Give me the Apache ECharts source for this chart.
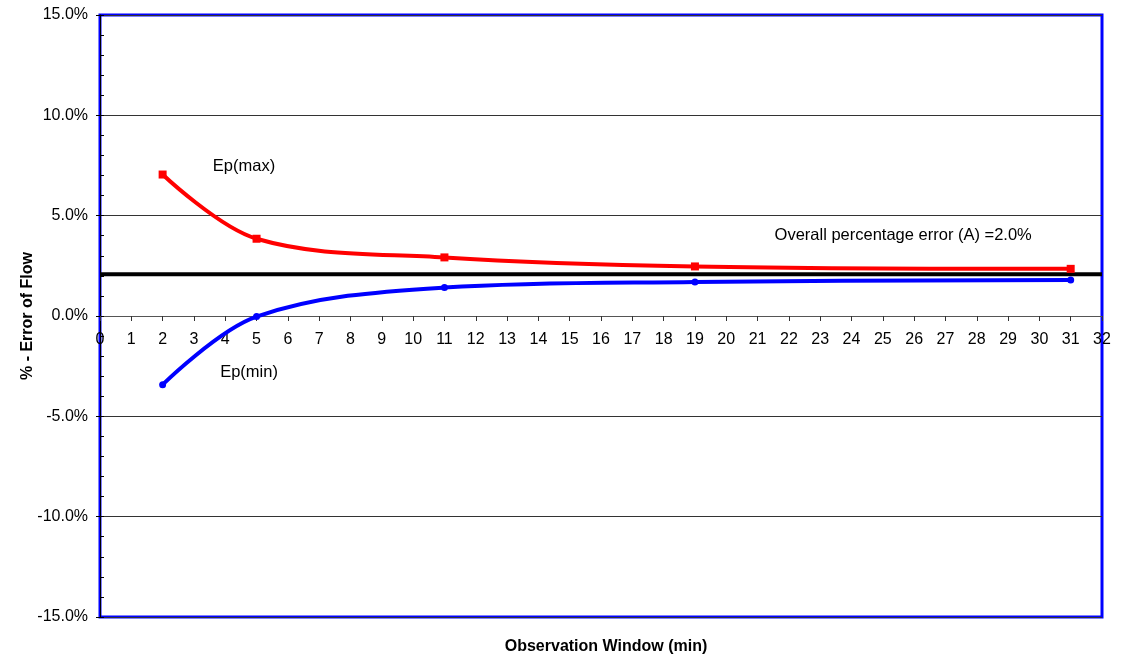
<!DOCTYPE html>
<html>
<head>
<meta charset="utf-8">
<script src="https://cdn.jsdelivr.net/npm/echarts@6/dist/echarts.min.js"></script>
<style>html,body{margin:0;padding:0;background:#fff}#c{width:1127px;height:658px}</style>
</head>
<body>
<div id="c"></div>
<script>
const windows = [2, 5, 11, 19, 31];
const epMax = [7.05, 3.85, 2.92, 2.47, 2.35];
const epMin = [-3.42, -0.03, 1.42, 1.7, 1.8];
const overallX = [0, 32];
const overallValue = [2.08, 2.08];
const yTicks = [-15, -10, -5, 0, 5, 10, 15];

const FONT = '"Liberation Sans", Arial, Helvetica, sans-serif';
const GRID = { left: 100, right: 25, top: 15, bottom: 41 };
const chart = echarts.init(document.getElementById('c'));
const pair = (xs, ys) => xs.map((x, i) => [x, ys[i]]);
// the x axis sits on the 0% line, halfway down the plot (range -15..15)
const plotH = 658 - GRID.top - GRID.bottom;
const zeroOffset = -plotH * (0 - yTicks[0]) / (yTicks[yTicks.length - 1] - yTicks[0]);

chart.setOption({
  animation: false,
  textStyle: { fontFamily: FONT },
  title: {
    text: 'Observation Window (min)', left: 601, top: 634, textAlign: 'center',
    textStyle: { fontWeight: 'bold', fontSize: 16, color: '#000', fontFamily: FONT }
  },
  grid: Object.assign({ show: true, borderColor: '#0000ff', borderWidth: 3, backgroundColor: 'transparent' }, GRID),
  xAxis: {
    type: 'value', min: 0, max: 32, interval: 1, position: 'bottom', offset: zeroOffset,
    axisLine: { show: true, onZero: false, lineStyle: { color: '#555', width: 1 } },
    axisTick: { show: true, length: 5, lineStyle: { color: '#333' } },
    axisLabel: { color: '#000', fontSize: 16, margin: 16, fontFamily: FONT },
    splitLine: { show: false }
  },
  yAxis: [{
    type: 'value', min: yTicks[0], max: yTicks[yTicks.length - 1], interval: 5,
    axisLine: { show: true, onZero: false, lineStyle: { color: '#000' } },
    axisTick: { show: true, length: 4, lineStyle: { color: '#000' } },
    axisLabel: { color: '#000', fontSize: 16, margin: 12, fontFamily: FONT, formatter: v => v.toFixed(1) + '%' },
    splitLine: { show: true, lineStyle: { color: '#333', width: 1 } },
    name: '% - Error of Flow', nameLocation: 'middle', nameGap: 64, nameRotate: 90, nameMoveOverlap: false,
    nameTextStyle: { fontWeight: 'bold', fontSize: 16, color: '#000', fontFamily: FONT }
  }, {
    type: 'value', min: yTicks[0], max: yTicks[yTicks.length - 1], interval: 1, position: 'left',
    axisLine: { show: false, onZero: false },
    axisTick: { show: true, inside: true, length: 4, lineStyle: { color: '#000' } },
    axisLabel: { show: false }, splitLine: { show: false }
  }],
  series: [{
    name: 'Overall', type: 'line', data: pair(overallX, overallValue), symbol: 'none',
    lineStyle: { color: '#000', width: 4 }, z: 1,
    markPoint: {
      symbol: 'circle', symbolSize: 0,
      label: { show: true, color: '#000', fontSize: 16.5, fontFamily: FONT, formatter: p => p.name },
      data: [
        { name: 'Overall percentage error (A) =2.0%', coord: [25.65, 4.0] },
        { name: 'Ep(max)', coord: [4.6, 7.45] },
        { name: 'Ep(min)', coord: [4.76, -2.8] }
      ]
    }
  }, {
    name: 'Ep(max)', type: 'line', data: pair(windows, epMax), smooth: 0.35,
    symbol: 'rect', symbolSize: 8, showAllSymbol: true,
    lineStyle: { color: '#ff0000', width: 4 }, itemStyle: { color: '#ff0000' }, z: 3
  }, {
    name: 'Ep(min)', type: 'line', data: pair(windows, epMin), smooth: 0.35,
    symbol: 'circle', symbolSize: 7, showAllSymbol: true,
    lineStyle: { color: '#0000ff', width: 4 }, itemStyle: { color: '#0000ff' }, z: 3
  }]
});
</script>
</body>
</html>
